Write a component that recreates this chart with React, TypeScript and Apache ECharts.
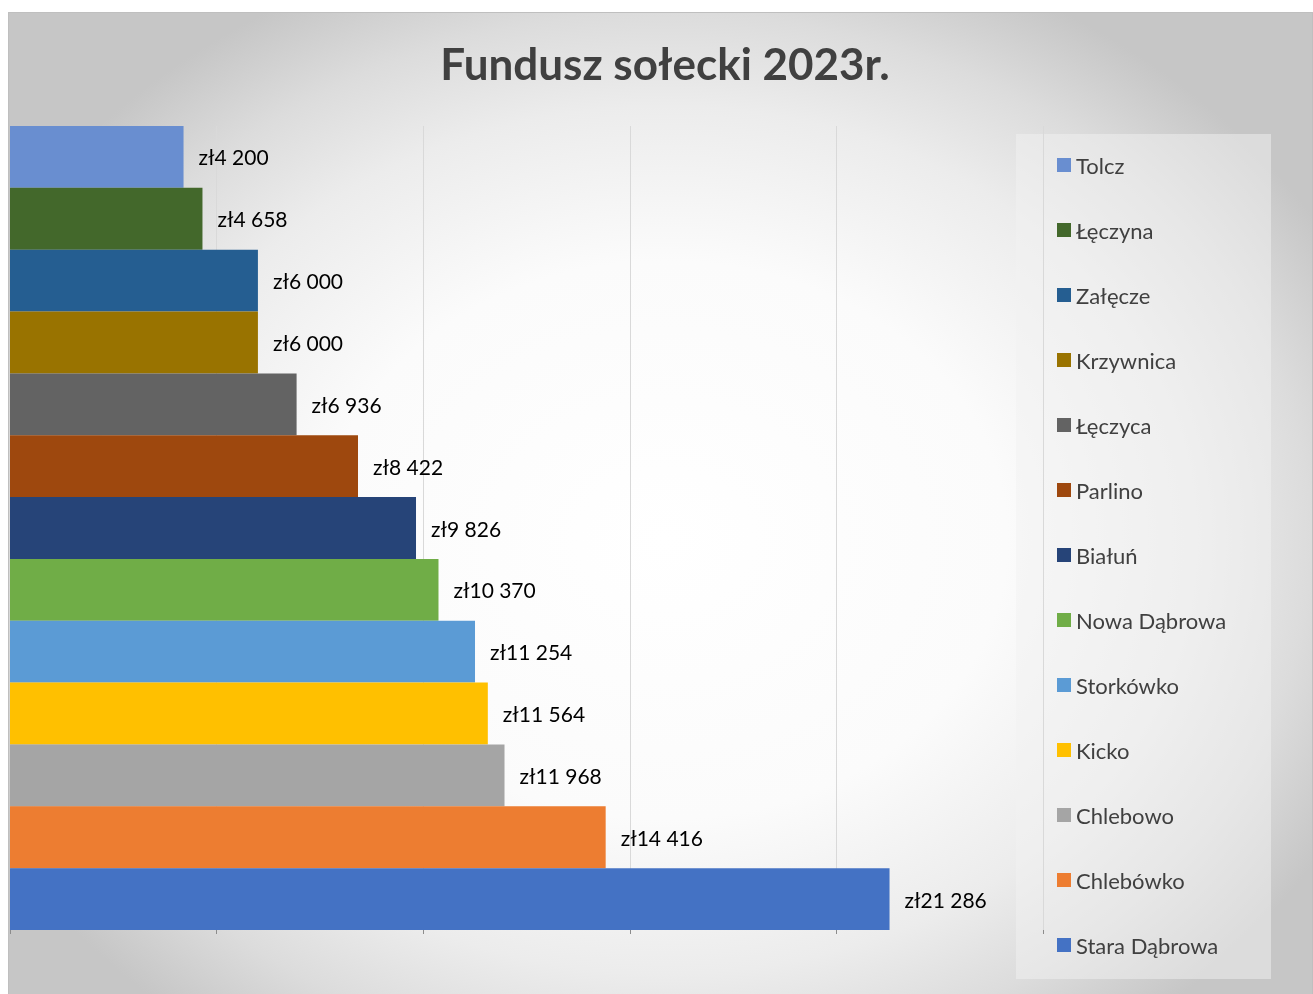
import React, { useEffect, useRef } from "react";
import * as echarts from "echarts";

const categories = [
  "Tolcz",
  "Łęczyna",
  "Załęcze",
  "Krzywnica",
  "Łęczyca",
  "Parlino",
  "Białuń",
  "Nowa Dąbrowa",
  "Storkówko",
  "Kicko",
  "Chlebowo",
  "Chlebówko",
  "Stara Dąbrowa",
];
const values = [4200, 4658, 6000, 6000, 6936, 8422, 9826, 10370, 11254, 11564, 11968, 14416, 21286];
const colors = [
  "#698ED0",
  "#43682B",
  "#255E91",
  "#997300",
  "#636363",
  "#9E480E",
  "#264478",
  "#70AD47",
  "#5B9BD5",
  "#FFC000",
  "#A5A5A5",
  "#ED7D31",
  "#4472C4",
];
const titleText = "Fundusz sołecki 2023r.";
const xMin = 0;
const xMax = 25000;
const xStep = 5000;

const FONT = "Lato, 'Open Sans', sans-serif";

function fmt(v: number): string {
  return "zł" + String(v).replace(/\B(?=(\d{3})+(?!\d))/g, " ");
}

export default function App() {
  const ref = useRef<HTMLDivElement>(null);
  useEffect(() => {
    if (!ref.current) return;
    const chart = echarts.init(ref.current, undefined, { renderer: "svg" });
    const W = 1305;
    const H = 982;
    const R = 500;
    const cx = 665;
    const cy = 540;
    const rx = 760;
    const ry = 620;
    const series = categories.map((name, i) => ({
      name,
      type: "bar",
      stack: "all",
      barCategoryGap: "0%",
      itemStyle: { color: colors[i] },
      data: values.map((v, j) => (j === i ? v : "-")),
      label: {
        show: true,
        position: "right",
        distance: 15,
        fontFamily: FONT,
        fontSize: 21,
        color: "#000000",
        formatter: (p: any) => fmt(p.value),
      },
    }));
    chart.setOption({
      animation: false,
      textStyle: { fontFamily: FONT },
      graphic: [
        {
          type: "rect",
          z: -100,
          silent: true,
          x: cx - 8,
          y: cy - 12,
          scaleX: rx / R,
          scaleY: ry / R,
          shape: { x: -R, y: -R, width: 2 * R, height: 2 * R },
          style: {
            fill: {
              type: "radial",
              x: 0.5,
              y: 0.5,
              r: 0.5,
              colorStops: [
                { offset: 0, color: "#ffffff" },
                { offset: 0.45, color: "#fbfbfb" },
                { offset: 0.7, color: "#ececec" },
                { offset: 0.85, color: "#dcdcdc" },
                { offset: 1, color: "#c6c6c6" },
              ],
            },
          },
        },
        {
          type: "rect",
          z: -90,
          silent: true,
          shape: { x: 0.5, y: 0.5, width: W - 1, height: H + 20 },
          style: { fill: "none", stroke: "#bfbfbf", lineWidth: 1 },
        },
        {
          type: "rect",
          z: -50,
          silent: true,
          shape: { x: 1008, y: 122, width: 255, height: 845 },
          style: { fill: "rgba(242,242,242,0.5)" },
        },
        {
          type: "text",
          z: 10,
          x: 657,
          y: 51,
          style: {
            text: titleText,
            fontFamily: FONT,
            fontWeight: "bold",
            fontSize: 44,
            fill: "#404040",
            align: "center",
            verticalAlign: "middle",
          },
        },
      ],
      legend: {
        orient: "vertical",
        left: 1049,
        top: 142,
        padding: 0,
        itemWidth: 14,
        itemHeight: 14,
        itemGap: 43,
        icon: "rect",
        selectedMode: false,
        data: categories,
        textStyle: {
          fontFamily: FONT,
          fontSize: 22,
          lineHeight: 21,
          color: "#404040",
        },
      },
      grid: { left: 2, top: 114, width: 1033, height: 804, containLabel: false },
      xAxis: {
        type: "value",
        min: xMin,
        max: xMax,
        interval: xStep,
        axisLine: { show: false },
        axisLabel: { show: false },
        axisTick: { show: true, length: 4, lineStyle: { color: "#8c8c8c", width: 1 } },
        splitLine: { show: true, lineStyle: { color: "#d9d9d9", width: 1 } },
      },
      yAxis: {
        type: "category",
        data: categories,
        inverse: true,
        axisLine: { show: false },
        axisTick: { show: false },
        axisLabel: { show: false },
        splitLine: { show: false },
      },
      series,
    });
    return () => chart.dispose();
  }, []);
  return (
    <div
      ref={ref}
      style={{ position: "fixed", left: 8, top: 12, width: 1305, height: 982 }}
    />
  );
}
